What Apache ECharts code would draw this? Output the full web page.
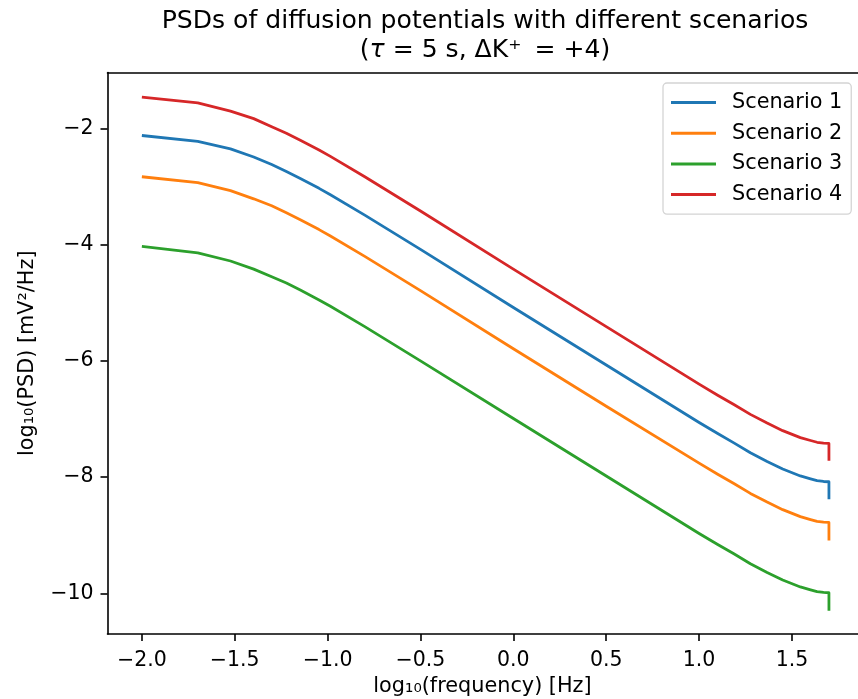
<!DOCTYPE html>
<html>
<head>
<meta charset="utf-8">
<script src="https://cdn.jsdelivr.net/npm/echarts@6/dist/echarts.min.js"></script>
<style>html,body{margin:0;padding:0;background:#fff;overflow:hidden;}#c{width:858px;height:699px;overflow:hidden;}</style>
</head>
<body>
<div id="c"></div>
<script>
// log10(frequency) [Hz]
const logFreq = [-2, -1.699, -1.523, -1.398, -1.301, -1.222, -1.147, -1.046, -0.985, -0.8, -0.5, 0, 0.5, 1.0, 1.1, 1.187, 1.276, 1.366, 1.45, 1.545, 1.6, 1.635, 1.67, 1.6989, 1.699];
// log10(PSD) values per scenario
const scenario1 = [-2.12, -2.22, -2.35, -2.49, -2.62, -2.74, -2.86, -3.03, -3.14, -3.49, -4.08, -5.08, -6.07, -7.06, -7.25, -7.41, -7.58, -7.73, -7.86, -7.98, -8.03, -8.06, -8.075, -8.08, -8.38];
const scenario2 = [-2.83, -2.93, -3.07, -3.21, -3.33, -3.45, -3.57, -3.74, -3.85, -4.20, -4.79, -5.79, -6.78, -7.76, -7.95, -8.11, -8.28, -8.43, -8.56, -8.68, -8.73, -8.76, -8.775, -8.78, -9.09];
const scenario3 = [-4.03, -4.14, -4.28, -4.42, -4.55, -4.66, -4.78, -4.95, -5.06, -5.41, -6.00, -6.99, -7.98, -8.97, -9.16, -9.32, -9.49, -9.64, -9.77, -9.89, -9.94, -9.97, -9.985, -9.99, -10.30];
const scenario4 = [-1.46, -1.56, -1.70, -1.83, -1.97, -2.08, -2.20, -2.37, -2.48, -2.83, -3.42, -4.42, -5.41, -6.40, -6.59, -6.75, -6.92, -7.07, -7.20, -7.32, -7.37, -7.40, -7.415, -7.42, -7.72];
const seriesNames = ['Scenario 1', 'Scenario 2', 'Scenario 3', 'Scenario 4'];
const xTicks = [-2.0, -1.5, -1.0, -0.5, 0.0, 0.5, 1.0, 1.5];
const yTicks = [-10, -8, -6, -4, -2];

const colors = ['#1f77b4', '#ff7f0e', '#2ca02c', '#d62728'];
const allData = [scenario1, scenario2, scenario3, scenario4];
const FONT = 'DejaVu Sans';
const minus = s => String(s).replace('-', '\u2212');
const X_MIN = -2.185, X_MAX = 1.8527;
const spine = { show: true, onZero: false, lineStyle: { color: '#000', width: 1.6 } };

const chart = echarts.init(document.getElementById('c'), null, {renderer: 'canvas'});
chart.setOption({
  animation: false,
  backgroundColor: '#fff',
  title: {
    text: 'PSDs of diffusion potentials with different scenarios\n({i|τ} = 5 s, ΔK⁺ \u2009= +4)',
    left: 485,
    top: 7,
    padding: 0,
    textAlign: 'center',
    textStyle: {
      fontFamily: FONT, fontSize: 25.1, fontWeight: 'normal', color: '#000', lineHeight: 29,
      rich: { i: { fontFamily: FONT, fontSize: 25.1, fontStyle: 'italic', color: '#000', lineHeight: 29 } }
    }
  },
  legend: {
    orient: 'vertical',
    left: 663,
    top: 83,
    data: seriesNames,
    icon: 'rect',
    itemWidth: 45,
    itemHeight: 3,
    itemGap: 9.7,
    padding: [9, 9, 9, 8],
    backgroundColor: '#fff',
    borderColor: '#d4d4d4',
    borderWidth: 1.3,
    borderRadius: 4,
    textStyle: { fontFamily: FONT, fontSize: 20.8, color: '#000', lineHeight: 21, padding: [0, 0, 0, 11] }
  },
  grid: {
    left: 107.5, top: 72.5, width: 750, height: 561.5,
    outerBoundsMode: 'none',
    containLabel: false,
    show: false
  },
  xAxis: [{
    type: 'value',
    min: X_MIN, max: X_MAX,
    position: 'bottom',
    name: 'log₁₀(frequency) [Hz]',
    nameLocation: 'middle',
    nameGap: 42,
    nameTextStyle: { fontFamily: FONT, fontSize: 20.8, color: '#000' },
    axisLine: spine,
    splitLine: { show: false },
    axisTick: { show: true, customValues: xTicks, length: 7, lineStyle: { color: '#000', width: 1.6 } },
    axisLabel: { customValues: xTicks, margin: 16, fontFamily: FONT, fontSize: 20.5, color: '#000',
      formatter: v => minus(Number(v).toFixed(1)) }
  }, {
    type: 'value',
    min: X_MIN, max: X_MAX,
    position: 'top',
    axisLine: spine,
    splitLine: { show: false },
    axisTick: { show: false },
    axisLabel: { show: false }
  }],
  yAxis: {
    type: 'value',
    min: -10.70, max: -1.036,
    name: 'log₁₀(PSD) [mV²/Hz]',
    nameLocation: 'middle',
    nameGap: 69,
    nameRotate: 90,
    nameTextStyle: { fontFamily: FONT, fontSize: 20.8, color: '#000' },
    axisLine: spine,
    splitLine: { show: false },
    axisTick: { show: true, customValues: yTicks, length: 7, lineStyle: { color: '#000', width: 1.6 } },
    axisLabel: { customValues: yTicks, margin: 14, fontFamily: FONT, fontSize: 20.5, color: '#000',
      formatter: v => minus(Math.round(v)) }
  },
  series: allData.map((d, i) => ({
    name: seriesNames[i],
    type: 'line',
    xAxisIndex: 0,
    data: logFreq.map((x, k) => [x, d[k]]),
    showSymbol: false,
    symbol: 'none',
    smooth: false,
    itemStyle: { color: colors[i] },
    lineStyle: { color: colors[i], width: 2.8, join: 'round' }
  }))
});
</script>
</body>
</html>
